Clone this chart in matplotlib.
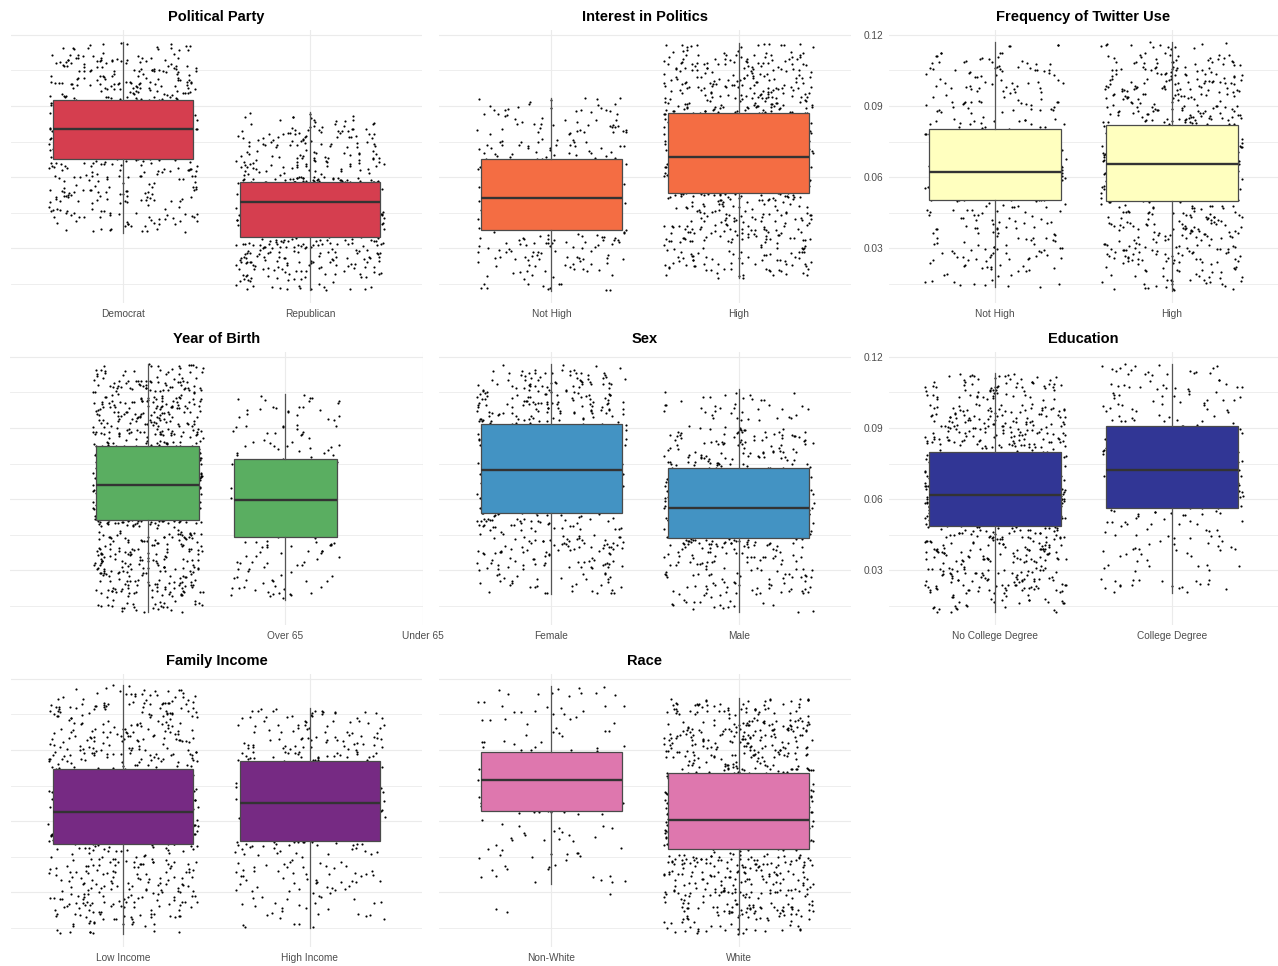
import numpy as np
import matplotlib.pyplot as plt

plt.rcParams['font.family'] = ['Liberation Sans', 'DejaVu Sans']

# y bins (width 0.01) used for the jittered points
bin_lo = [0.01, 0.02, 0.03, 0.04, 0.05, 0.06, 0.07, 0.08, 0.09, 0.10, 0.11]

# box stats per group: [whisker low, q1, median, q3, whisker high]
party_labels = ["Democrat", "Republican"]
party_box = [[0.0365, 0.0675, 0.0804, 0.0925, 0.1169],
             [0.0123, 0.0345, 0.0493, 0.0579, 0.0875]]
party_counts = [[0, 0, 12, 50, 60, 71, 126, 134, 92, 75, 30],
                [40, 80, 102, 115, 162, 66, 60, 25, 0, 0, 0]]

interest_labels = ["Not High", "High"]
interest_box = [[0.0120, 0.0376, 0.0511, 0.0676, 0.0933],
                [0.0172, 0.0534, 0.0686, 0.0869, 0.1168]]
interest_counts = [[18, 42, 52, 70, 59, 53, 41, 35, 10, 0, 0],
                   [10, 62, 74, 64, 122, 145, 126, 111, 91, 80, 35]]

twitter_labels = ["Not High", "High"]
twitter_box = [[0.0134, 0.0503, 0.0621, 0.0804, 0.1169],
               [0.0120, 0.0497, 0.0656, 0.0821, 0.1169]]
twitter_counts = [[14, 40, 33, 33, 98, 73, 66, 34, 38, 38, 13],
                  [30, 60, 61, 57, 129, 127, 124, 73, 67, 67, 25]]

birth_labels = ["Over 65", "Under 65"]
birth_box = [[0.0121, 0.0511, 0.0658, 0.0823, 0.1169],
             [0.0173, 0.0438, 0.0595, 0.0770, 0.1042]]
birth_counts = [[35, 80, 77, 69, 169, 174, 162, 97, 86, 86, 35],
                [6, 22, 22, 31, 36, 33, 29, 21, 21, 9, 0]]

sex_labels = ["Female", "Male"]
sex_box = [[0.0199, 0.0542, 0.0723, 0.0918, 0.1169],
           [0.0121, 0.0437, 0.0563, 0.0730, 0.1063]]
sex_counts = [[0, 35, 60, 58, 77, 98, 91, 90, 78, 78, 35],
              [22, 55, 54, 93, 110, 90, 74, 60, 30, 12, 0]]

edu_labels = ["No College Degree", "College Degree"]
edu_box = [[0.0121, 0.0485, 0.0617, 0.0797, 0.1131],
           [0.0204, 0.0562, 0.0723, 0.0907, 0.1169]]
edu_counts = [[30, 80, 77, 85, 187, 145, 134, 85, 85, 55, 17],
              [0, 21, 22, 22, 33, 51, 45, 43, 31, 31, 21]]

income_labels = ["Low Income", "High Income"]
income_box = [[0.0121, 0.0503, 0.0638, 0.0821, 0.1175],
              [0.0149, 0.0517, 0.0676, 0.0855, 0.1079]]
income_counts = [[30, 66, 65, 58, 160, 136, 120, 74, 71, 70, 30],
                 [8, 24, 36, 34, 60, 62, 59, 53, 47, 37, 0]]

race_labels = ["Non-White", "White"]
race_box = [[0.0333, 0.0644, 0.0773, 0.0893, 0.1172],
            [0.0123, 0.0483, 0.0604, 0.0804, 0.1118]]
race_counts = [[0, 3, 11, 16, 16, 29, 40, 39, 18, 18, 13],
               [40, 85, 86, 102, 226, 141, 138, 90, 100, 80, 12]]

colors = ['#D53E4F', '#F46D43', '#FFFFBF', '#5AAE61',
          '#4393C3', '#313695', '#762A83', '#DE77AE']

W, H = 1278, 966
fig = plt.figure(figsize=(W / 100, H / 100), dpi=100)

# quadratic Weyl sequence: an even, irregular scatter without random numbers
r2, r3, r5 = np.sqrt(2), np.sqrt(3), (np.sqrt(5) - 1) / 2
seq_i = [0]


def points(counts, box, pos):
    xs, ys = [], []
    lo_w, hi_w = box[0], box[4]
    for b, c in zip(bin_lo, counts):
        lo, hi = b, b + 0.01
        if lo < lo_w < hi:
            lo = lo_w
        if lo < hi_w < hi:
            hi = hi_w
        for k in range(c):
            seq_i[0] += 1
            n = seq_i[0]
            u = (n * n * r2) % 1
            v = (n * n * r3 + n * r5) % 1
            xs.append(pos + (2 * u - 1) * 0.4)
            ys.append(lo + (hi - lo) * v)
    return xs, ys


def panel(px, title, labels, boxes, counts, color, ylabels=False,
          box_pos=(1, 2), tick_pos=(1, 2), xlim=(0.4, 2.6)):
    x0, y0, x1, y1 = px
    ax = fig.add_axes([x0 / W, 1 - y1 / H, (x1 - x0) / W, (y1 - y0) / H])
    ax.set_xlim(*xlim)
    ax.set_ylim(0.0068, 0.1221)
    for p, bx, cnt in zip(box_pos, boxes, counts):
        xs, ys = points(cnt, bx, p)
        ax.scatter(xs, ys, s=2.4, c='black', linewidths=0, zorder=2)
    stats = [dict(whislo=b[0], q1=b[1], med=b[2], q3=b[3], whishi=b[4], fliers=[])
             for b in boxes]
    ax.bxp(stats, positions=box_pos, widths=0.75, showcaps=False,
           patch_artist=True, manage_ticks=False,
           boxprops=dict(facecolor=color, edgecolor='#4a4a4a', linewidth=0.9),
           whiskerprops=dict(color='#555555', linewidth=0.9),
           medianprops=dict(color='#333333', linewidth=1.7),
           zorder=3)
    ax.set_xticks(tick_pos)
    ax.set_xticklabels(labels)
    ax.set_yticks([0.03, 0.06, 0.09, 0.12])
    ax.set_yticks([0.015, 0.045, 0.075, 0.105], minor=True)
    ax.set_yticklabels(['0.03', '0.06', '0.09', '0.12'])
    ax.grid(which='major', color='#EBEBEB', linewidth=0.85)
    ax.grid(which='minor', axis='y', color='#EBEBEB', linewidth=0.6)
    ax.set_axisbelow(True)
    for s in ax.spines.values():
        s.set_visible(False)
    ax.tick_params(which='both', length=0, labelsize=7.3, labelcolor='#4D4D4D', pad=4.2)
    if not ylabels:
        ax.tick_params(labelleft=False)
    fig.text((x0 + x1) / 2 / W, 1 - (y0 - 13) / H, title, ha='center', va='center',
             fontsize=10.5, fontweight='bold', color='black')
    return ax


rows = [30, 352, 674]
cols = [(11, 422), (439, 851), (889, 1278)]


def box_px(r, c):
    return (cols[c][0], rows[r], cols[c][1], rows[r] + 273)


panel(box_px(0, 0), "Political Party", party_labels, party_box, party_counts, colors[0])
panel(box_px(0, 1), "Interest in Politics", interest_labels, interest_box, interest_counts, colors[1])
panel(box_px(0, 2), "Frequency of Twitter Use", twitter_labels, twitter_box, twitter_counts,
      colors[2], ylabels=True)
panel((10, rows[1], 423, rows[1] + 273), "Year of Birth", birth_labels, birth_box, birth_counts,
      colors[3], box_pos=(1, 2), tick_pos=(2, 3), xlim=(0, 3))
panel(box_px(1, 1), "Sex", sex_labels, sex_box, sex_counts, colors[4])
panel(box_px(1, 2), "Education", edu_labels, edu_box, edu_counts, colors[5], ylabels=True)
panel(box_px(2, 0), "Family Income", income_labels, income_box, income_counts, colors[6])
panel(box_px(2, 1), "Race", race_labels, race_box, race_counts, colors[7])

fig.savefig('out.png', dpi=100, facecolor='white')
